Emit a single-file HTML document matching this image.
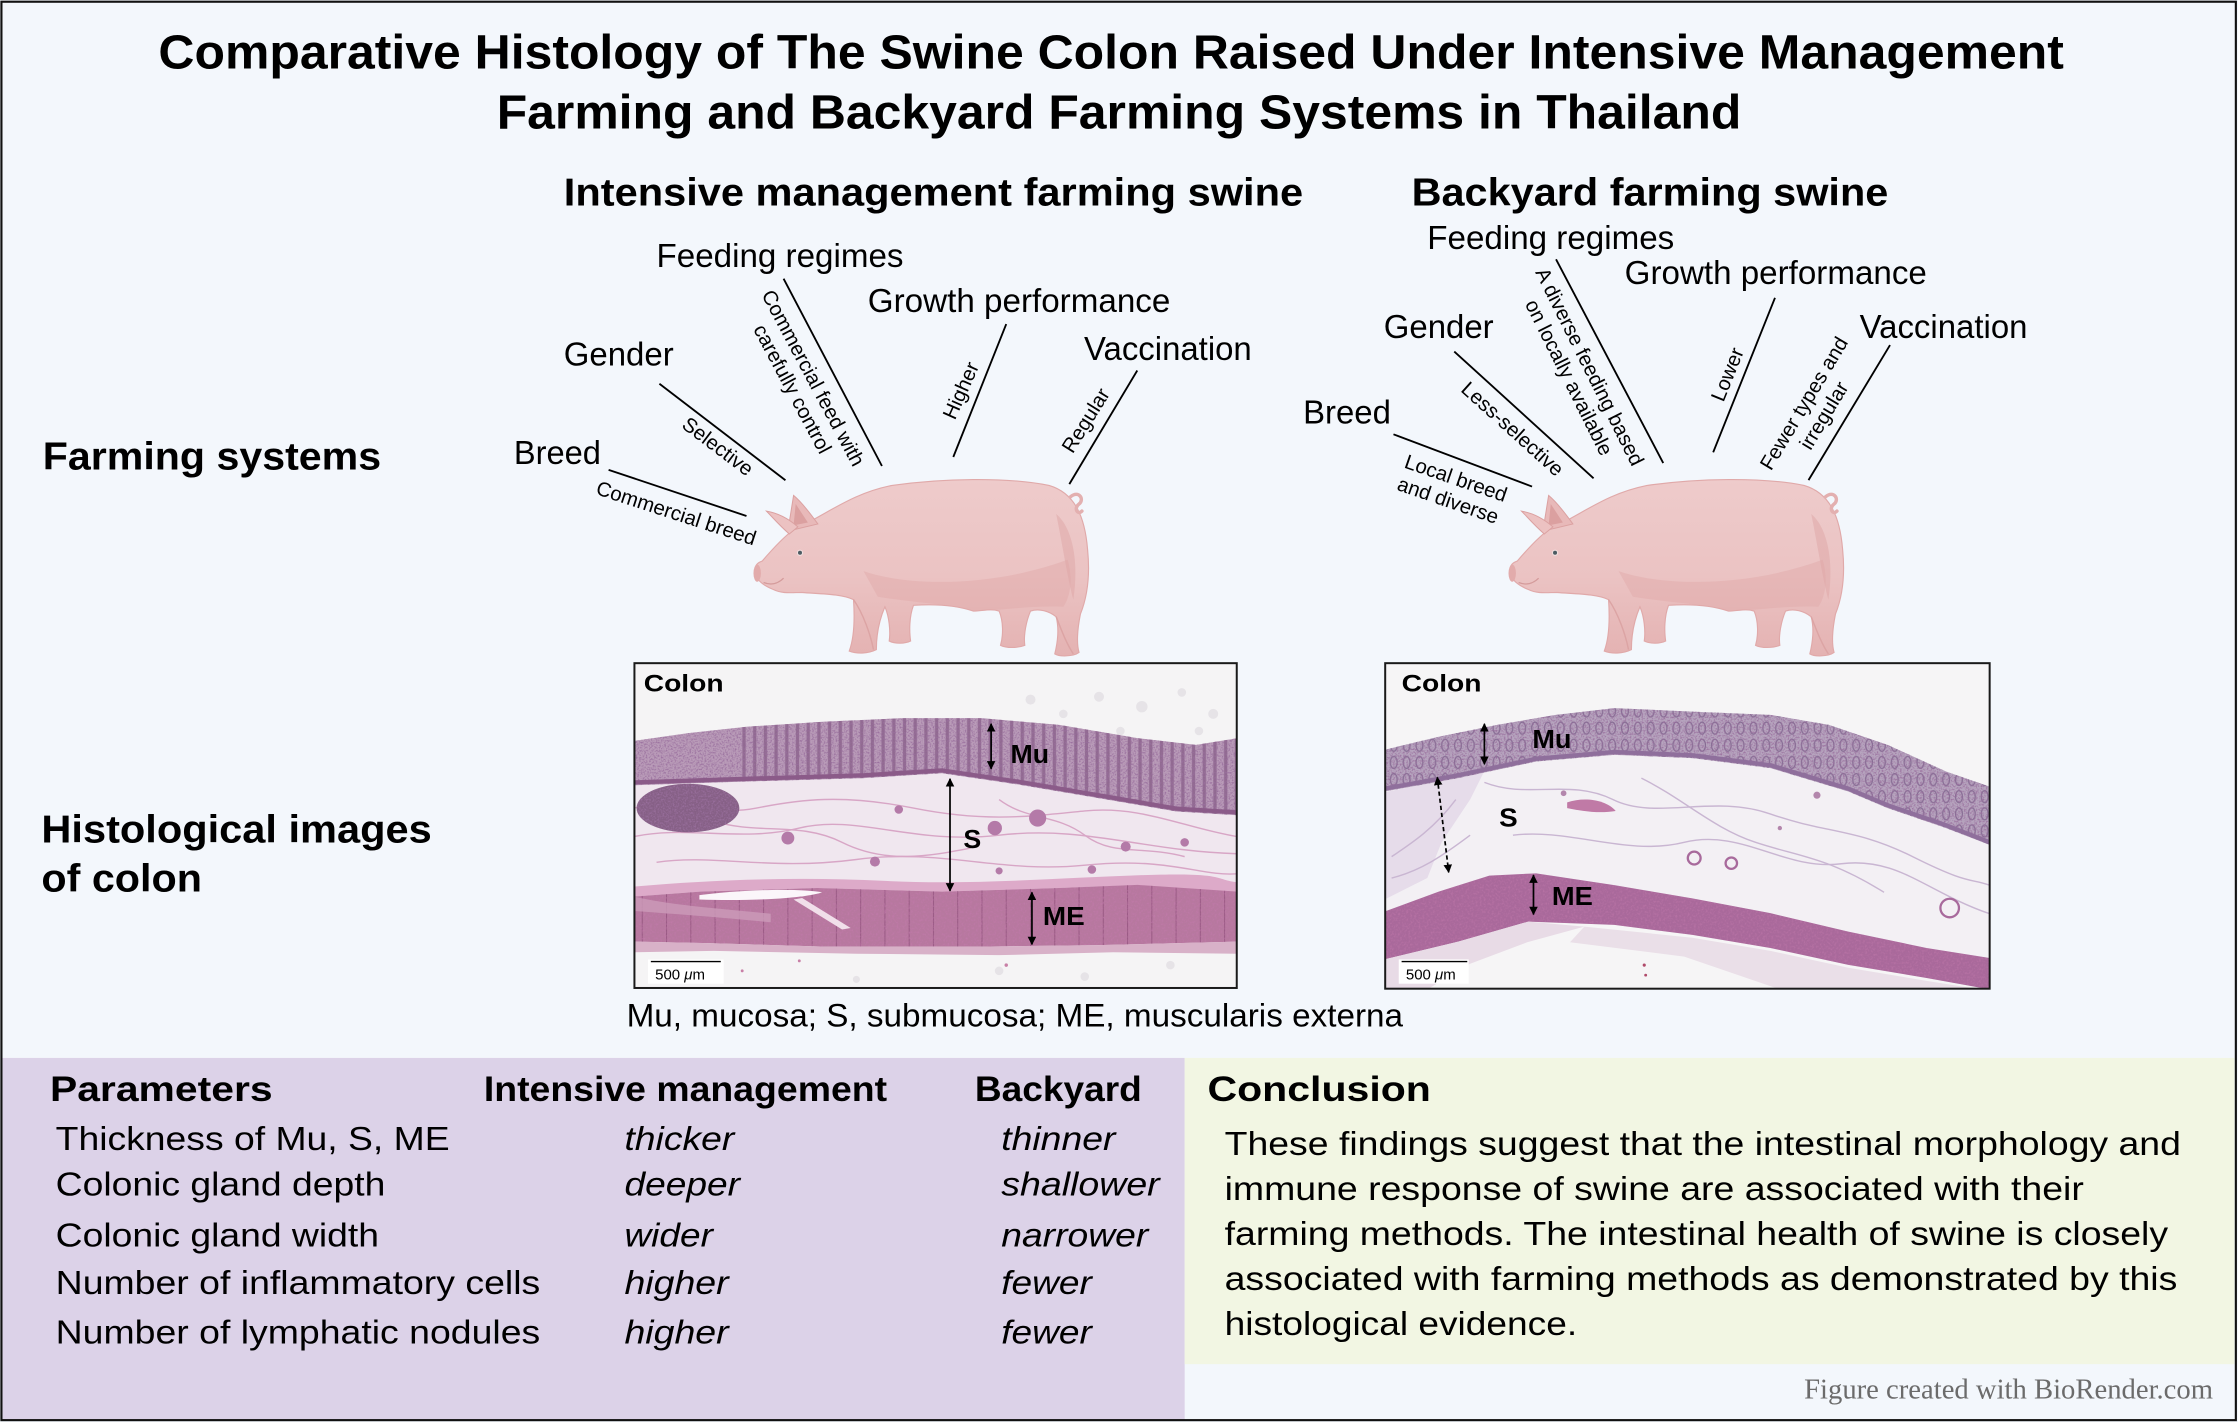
<!DOCTYPE html>
<html><head><meta charset="utf-8"><style>
html,body{margin:0;padding:0;background:#f3f7fc;width:2238px;height:1422px;overflow:hidden}
svg{display:block}
</style></head><body>
<svg xmlns="http://www.w3.org/2000/svg" xmlns:xlink="http://www.w3.org/1999/xlink" width="2238" height="1422" viewBox="0 0 1568 996" preserveAspectRatio="none" font-family="'Liberation Sans', Arial, sans-serif">
<defs>
  <marker id="ah" viewBox="0 0 10 10" refX="9" refY="5" markerWidth="6" markerHeight="6" markerUnits="userSpaceOnUse" orient="auto-start-reverse">
    <path d="M0,0 L10,5 L0,10 z" fill="#000"/>
  </marker>
  <linearGradient id="pigG" x1="0" y1="0" x2="0" y2="1">
    <stop offset="0" stop-color="#eecbcb"/>
    <stop offset="0.55" stop-color="#ebc3c3"/>
    <stop offset="1" stop-color="#e4b2b2"/>
  </linearGradient>
  <clipPath id="boxL"><rect x="444.5" y="464.5" width="422" height="227.5"/></clipPath>
  <clipPath id="boxR"><rect x="970.5" y="464.5" width="423.5" height="228"/></clipPath>
  <clipPath id="nodL"><ellipse cx="482" cy="566" rx="36" ry="17"/></clipPath>
  <clipPath id="mucL"><path d="M444,519 L482,513.5 L523,509 L578,505.4 L632.8,503 L687.5,503 L742.2,507.7 L797,517 L838,521.7 L867,517 L867,571 L824.3,568.4 L769.6,559 L714.8,549.7 L660,541.6 L605.5,545 L523,547.4 L444,550 Z"/></clipPath>
  <clipPath id="meL"><path d="M444,628 L490.6,624.5 L572.6,622 L660,624.5 L742,622 L797,619.8 L867,624.5 L867,659.5 L769.6,662 L687.5,663 L578,663 L496,660.6 L444,659.5 Z"/></clipPath>
  <clipPath id="mucR"><path d="M970,525.2 L1008,516 L1049,507.7 L1090,500.7 L1131,496 L1185.7,498.4 L1240.4,500.7 L1281.4,507.7 L1322.5,521.7 L1363.5,540.4 L1394,551 L1394,591.8 L1363.5,580 L1322.5,566 L1295,554.4 L1240.4,538 L1185.7,531 L1131,528.7 L1076.3,533.4 L1021.7,545 L970,554.4 Z"/></clipPath>
  <clipPath id="meR"><path d="M970,638.5 L1008,624.5 L1043.5,613.3 L1076.3,611.7 L1131,620 L1185.7,629.2 L1240.4,639.6 L1295,652.5 L1349.8,664 L1394,671 L1394,693 L1349.8,685 L1295,675.8 L1240.4,664 L1185.7,654.8 L1131,647.8 L1070.8,645.5 L1021.7,659.5 L970,672 Z"/></clipPath>
  <pattern id="glL" patternUnits="userSpaceOnUse" width="7.5" height="80">
    <rect x="2.6" y="-2" width="2.3" height="84" rx="1.1" fill="#6a3a6a" opacity=".5"/>
  </pattern>
  <pattern id="glR" patternUnits="userSpaceOnUse" width="9" height="12">
    <ellipse cx="4.5" cy="6" rx="2.4" ry="4.2" fill="none" stroke="#5f4070" stroke-width="0.9" opacity=".55"/>
  </pattern>
  <pattern id="bunL" patternUnits="userSpaceOnUse" width="17" height="60">
    <line x1="8" y1="0" x2="8" y2="60" stroke="#7f3f6c" stroke-width=".7" opacity=".55"/>
  </pattern>
  <filter id="nz" x="0" y="0" width="100%" height="100%">
    <feTurbulence type="fractalNoise" baseFrequency="0.85" numOctaves="2" seed="5" result="t"/>
    <feColorMatrix in="t" type="matrix" values="0 0 0 0 0.32  0 0 0 0 0.16  0 0 0 0 0.34  2.6 0 0 0 -1.1"/>
  </filter>
  <filter id="nzp" x="0" y="0" width="100%" height="100%">
    <feTurbulence type="fractalNoise" baseFrequency="0.7" numOctaves="2" seed="9" result="t"/>
    <feColorMatrix in="t" type="matrix" values="0 0 0 0 0.55  0 0 0 0 0.2  0 0 0 0 0.42  2.2 0 0 0 -0.95"/>
  </filter>
  <g id="pig">
    <path d="M529,399 C529,396 531,394 534,393 C540,386 548,377 556,371 L566,366 C585,356 600,345 625,340 C660,335 705,334 735,340 C752,345 760,360 762,385 C764,405 761,420 757,430 C755,440 754,450 756,457 C752,460 742,460 739,458 C741,450 742,440 740,432 C735,428 728,426 722,428 C719,435 717,445 718,452 C713,454 705,454 701,452 C703,445 703,435 700,428 C694,426 688,428 682,428 C670,424 655,423 640,424 C637,432 637,442 638,449 C634,451 627,451 623,449 C624,442 623,432 620,425 C617,432 614,442 614,455 C608,458 600,458 595,456 C598,448 599,435 598,420 C590,416 575,416 562,415 C555,415 548,416 542,413 C537,411 532,408 530,404 Z" fill="url(#pigG)" stroke="#e0a9a9" stroke-width="0.8"/>
    <path d="M605,400 C640,412 700,410 748,392 C752,405 750,418 745,425 C720,424 700,428 682,428 C665,423 640,422 615,418 Z" fill="#dfa9a9" opacity=".45"/>
    <path d="M740,360 C752,370 756,395 752,420 C748,405 745,385 740,360 Z" fill="#dea6a6" opacity=".5"/>
    <path d="M598,420 C605,430 610,445 612,455" stroke="#dca4a4" stroke-width="1" fill="none"/>
    <path d="M740,432 C745,445 748,452 752,458" stroke="#dca4a4" stroke-width="1" fill="none"/>
    <path d="M552,372 L556,347 C562,352 568,360 573,367 Z" fill="#e8b9b9" stroke="#dba1a1" stroke-width=".7"/>
    <path d="M556,368 L557.5,353 L566,366 Z" fill="#dba0a0"/>
    <path d="M553,374 C546,368 541,362 537,358 C543,359 551,362 559,369 Z" fill="#ecc2c2" stroke="#dba1a1" stroke-width=".7"/>
    <path d="M750,348 C756,343 760,350 756,353 C752,356 755,361 758,358" stroke="#e3b0b0" stroke-width="2.4" fill="none" stroke-linecap="round"/>
    <ellipse cx="530.5" cy="401.5" rx="2.6" ry="6" fill="#e2abab"/>
    <circle cx="560.5" cy="387.2" r="2.2" fill="#f1dede"/>
    <circle cx="560.5" cy="387.2" r="1.4" fill="#4b5b62"/>
    <path d="M535,408 C540,410 545,409 549,405" stroke="#d49b9b" stroke-width=".9" fill="none"/>
  </g>
</defs>

<rect width="1568" height="996" fill="#f3f7fc"/>
<rect x="1" y="741" width="829" height="253.5" fill="#dcd2e8"/>
<rect x="830" y="741" width="735.5" height="214.5" fill="#f2f6e3"/>
<rect x="1" y="1.2" width="1565.5" height="993.5" fill="none" stroke="#111" stroke-width="1.5"/>

<!-- Titles -->
<g font-weight="bold" fill="#000">
  <text x="111" y="48" font-size="34" textLength="1335" lengthAdjust="spacingAndGlyphs">Comparative Histology of The Swine Colon Raised Under Intensive Management</text>
  <text x="348" y="90" font-size="34" textLength="872" lengthAdjust="spacingAndGlyphs">Farming and Backyard Farming Systems in Thailand</text>
  <text x="395" y="144" font-size="27" textLength="518" lengthAdjust="spacingAndGlyphs">Intensive management farming swine</text>
  <text x="989" y="144" font-size="27" textLength="334" lengthAdjust="spacingAndGlyphs">Backyard farming swine</text>
  <text x="30" y="329" font-size="27" textLength="237" lengthAdjust="spacingAndGlyphs">Farming systems</text>
  <text x="29" y="590" font-size="27" textLength="273.5" lengthAdjust="spacingAndGlyphs">Histological images</text>
  <text x="29" y="624.5" font-size="27" textLength="112.5" lengthAdjust="spacingAndGlyphs">of colon</text>
</g>

<!-- Pigs -->
<use xlink:href="#pig" href="#pig"/>
<use xlink:href="#pig" href="#pig" transform="translate(529,0)"/>

<!-- Pig labels -->
<g font-size="23.2" fill="#000">
  <text x="360" y="325" textLength="61" lengthAdjust="spacingAndGlyphs">Breed</text>
  <text x="395" y="256" textLength="77" lengthAdjust="spacingAndGlyphs">Gender</text>
  <text x="460" y="187" textLength="173" lengthAdjust="spacingAndGlyphs">Feeding regimes</text>
  <text x="608" y="218.4" textLength="212" lengthAdjust="spacingAndGlyphs">Growth performance</text>
  <text x="759.5" y="252.3" textLength="117.5" lengthAdjust="spacingAndGlyphs">Vaccination</text>
  <text x="913" y="296.5" textLength="61.5" lengthAdjust="spacingAndGlyphs">Breed</text>
  <text x="969.5" y="236.9" textLength="77" lengthAdjust="spacingAndGlyphs">Gender</text>
  <text x="1000" y="174.5" textLength="173" lengthAdjust="spacingAndGlyphs">Feeding regimes</text>
  <text x="1138.3" y="199.1" textLength="211.7" lengthAdjust="spacingAndGlyphs">Growth performance</text>
  <text x="1302.9" y="236.8" textLength="117.6" lengthAdjust="spacingAndGlyphs">Vaccination</text>
</g>

<!-- Connector lines -->
<g stroke="#000" stroke-width="1.3" fill="none">
  <line x1="426.4" y1="329.1" x2="523" y2="361.4"/>
  <line x1="462" y1="268.8" x2="550.3" y2="336.4"/>
  <line x1="549" y1="195.2" x2="617.9" y2="326.4"/>
  <line x1="705" y1="227" x2="667.9" y2="320.1"/>
  <line x1="796.8" y1="259.5" x2="749.2" y2="339.1"/>
  <line x1="976.3" y1="304.2" x2="1073.4" y2="340.8"/>
  <line x1="1018.9" y1="246.2" x2="1116.5" y2="335"/>
  <line x1="1090.2" y1="181.6" x2="1165.3" y2="324.3"/>
  <line x1="1243.6" y1="208.6" x2="1200.3" y2="316.8"/>
  <line x1="1324.2" y1="241.7" x2="1267.1" y2="336.3"/>
</g>

<!-- Rotated small labels -->
<g font-size="14.3" text-anchor="middle" fill="#000">
  <text transform="translate(472.3,364) rotate(18)">Commercial breed</text>
  <text transform="translate(500,316.5) rotate(37)">Selective</text>
  <text transform="translate(565.5,267) rotate(62)">Commercial feed with</text>
  <text transform="translate(551,274.7) rotate(62)">carefully control</text>
  <text transform="translate(677.6,275.5) rotate(-66)">Higher</text>
  <text transform="translate(764.8,297) rotate(-58)">Regular</text>
  <text transform="translate(1018.5,339.5) rotate(19)">Local breed</text>
  <text transform="translate(1013,355) rotate(19)">and diverse</text>
  <text transform="translate(1056.5,304) rotate(42)">Less-selective</text>
  <text transform="translate(1109.5,259) rotate(63.5)">A diverse feeding based</text>
  <text transform="translate(1095,266.5) rotate(63.5)">on locally available</text>
  <text transform="translate(1214.7,264) rotate(-68)">Lower</text>
  <text transform="translate(1268,285) rotate(-59)">Fewer types and</text>
  <text transform="translate(1282,293.5) rotate(-59)">irregular</text>
</g>

<!-- LEFT HISTOLOGY -->
<g clip-path="url(#boxL)">
  <rect x="444" y="464" width="423" height="229" fill="#f5f4f5"/>
  <g fill="#e6e3e7">
    <circle cx="722" cy="490" r="3.5"/><circle cx="745" cy="500" r="3"/><circle cx="770" cy="488" r="3.5"/>
    <circle cx="800" cy="495" r="4"/><circle cx="828" cy="485" r="3"/><circle cx="850" cy="500" r="3.5"/>
    <circle cx="785" cy="512" r="3"/><circle cx="840" cy="512" r="3"/><circle cx="700" cy="680" r="3"/>
    <circle cx="760" cy="684" r="3"/><circle cx="820" cy="676" r="3"/><circle cx="600" cy="686" r="2.5"/>
  </g>
  <!-- submucosa -->
  <path d="M444,548 L523,545 L605.5,543 L660,540 L714.8,548 L769.6,557 L824.3,566 L867,569 L867,626 L797,621 L742,623 L660,626 L572.6,623 L490.6,626 L444,630 Z" fill="#f0e7ef"/>
  <g fill="none" stroke="#d8a6c6" stroke-width="1">
    <path d="M444,566 C470,560 500,572 530,566 S590,556 640,566 S720,572 760,568 S830,580 867,586"/>
    <path d="M444,586 C480,578 520,590 560,580 S640,592 700,585 S800,596 867,598"/>
    <path d="M460,604 C500,598 540,610 600,602 S700,612 760,606 S840,614 867,612"/>
    <path d="M500,575 C530,585 560,575 590,590 S650,600 680,594"/>
    <path d="M700,560 C720,575 740,570 760,585 S800,592 830,600"/>
  </g>
  <path d="M444,621 C500,616 560,614 620,617 S740,615 800,613 S850,616 867,618 L867,625 L797,620 L742,622 L660,624.5 L572.6,622 L490.6,624.5 L444,628 Z" fill="#d89bbf" opacity=".8"/>
  <g fill="#b47aa8">
    <circle cx="552" cy="587" r="4.5"/><circle cx="697" cy="580" r="5"/><circle cx="727" cy="573" r="6"/>
    <circle cx="613" cy="603.5" r="3.5"/><circle cx="788.7" cy="593" r="3.5"/><circle cx="765" cy="609" r="3"/>
    <circle cx="629.7" cy="567" r="3"/><circle cx="700" cy="610" r="2.5"/><circle cx="830" cy="590" r="3"/>
  </g>
  <!-- mucosa -->
  <path d="M444,519 L482,513.5 L523,509 L578,505.4 L632.8,503 L687.5,503 L742.2,507.7 L797,517 L838,521.7 L867,517 L867,571 L824.3,568.4 L769.6,559 L714.8,549.7 L660,541.6 L605.5,545 L523,547.4 L444,550 Z" fill="#b99bb8"/>
  <rect x="520" y="495" width="347" height="80" fill="url(#glL)" clip-path="url(#mucL)"/>
  <rect x="444" y="464" width="423" height="229" filter="url(#nz)" clip-path="url(#mucL)"/>
  <path d="M444,548 L523,545.5 L605.5,543 L660,539.6 L714.8,547.7 L769.6,557 L824.3,566.4 L867,569" fill="none" stroke="#8b5b89" stroke-width="3"/>
  <ellipse cx="482" cy="566" rx="36" ry="17" fill="#866086"/>
  <rect x="444" y="545" width="80" height="42" filter="url(#nz)" clip-path="url(#nodL)"/>
  <!-- muscularis externa -->
  <path d="M444,628 L490.6,624.5 L572.6,622 L660,624.5 L742,622 L797,619.8 L867,624.5 L867,659.5 L769.6,662 L687.5,663 L578,663 L496,660.6 L444,659.5 Z" fill="#b7789f"/>
  <rect x="444" y="610" width="423" height="60" fill="url(#bunL)" clip-path="url(#meL)"/>
  <rect x="444" y="464" width="423" height="229" filter="url(#nzp)" clip-path="url(#meL)" opacity=".7"/>
  <path d="M444,628 C470,634 500,636 540,640 L540,646 C500,642 470,640 444,638 Z" fill="#cc9bb9" opacity=".8"/>
  <path d="M490,627 C520,623 560,622 576,625 C560,630 520,631 490,630 Z" fill="#fbf6fa"/>
  <path d="M556,630 L562,629 L596,650 L590,651 Z" fill="#f1dfea"/>
  <path d="M444,659.5 L496,660.6 L578,663 L687.5,663 L769.6,662 L867,659.5 L867,668 L780,667 L700,669 L600,668 L500,666 L444,667 Z" fill="#d8b1c8"/>
  <g fill="#c87fa6"><circle cx="705" cy="676" r="1.2"/><circle cx="520" cy="680" r="1"/><circle cx="560" cy="673" r="1"/></g>
</g>
<rect x="444.5" y="464.5" width="422" height="227.5" fill="none" stroke="#1a1a1a" stroke-width="1.4"/>
<text x="451" y="484.4" font-size="17" font-weight="bold" textLength="56" lengthAdjust="spacingAndGlyphs">Colon</text>
<!-- arrows left -->
<g stroke="#000" stroke-width="1.2" fill="none">
  <line x1="694.4" y1="507" x2="694.4" y2="538.5" marker-start="url(#ah)" marker-end="url(#ah)"/>
  <line x1="665.6" y1="545.5" x2="665.6" y2="624" marker-start="url(#ah)" marker-end="url(#ah)"/>
  <line x1="723" y1="625" x2="723" y2="661.5" marker-start="url(#ah)" marker-end="url(#ah)"/>
</g>
<g font-weight="bold" font-size="18" fill="#000">
  <text x="708" y="534.5" textLength="27" lengthAdjust="spacingAndGlyphs">Mu</text>
  <text x="675" y="594" textLength="12.5" lengthAdjust="spacingAndGlyphs">S</text>
  <text x="730.7" y="647.8" textLength="29.3" lengthAdjust="spacingAndGlyphs">ME</text>
</g>
<rect x="454" y="672" width="53" height="17" fill="#fff"/>
<line x1="456" y1="673.5" x2="505" y2="673.5" stroke="#000" stroke-width="1"/>
<text x="459" y="686" font-size="10.5" fill="#000">500 <tspan font-style="italic">μ</tspan>m</text>

<!-- RIGHT HISTOLOGY -->
<g clip-path="url(#boxR)">
  <rect x="970" y="464" width="425" height="230" fill="#f6f5f6"/>
  <!-- submucosa -->
  <path d="M970,552 L1021.7,543 L1076.3,531.4 L1131,526.7 L1185.7,529 L1240.4,536 L1295,552.4 L1322.5,564 L1363.5,578 L1394,590 L1394,673 L1349.8,666 L1295,654.5 L1240.4,641.6 L1185.7,631.2 L1131,622 L1076.3,613.7 L1043.5,615.3 L1008,626.5 L970,640.5 Z" fill="#f3f0f4"/>
  <path d="M970,555 L1040,540 L1030,560 L1010,590 L1000,615 L970,630 Z" fill="#e3d8e7" opacity=".85"/>
  <g fill="none" stroke="#c9b6d2" stroke-width="1">
    <path d="M1040,548 C1070,560 1100,545 1130,560 S1200,556 1240,570 S1300,580 1340,600 S1380,615 1394,620"/>
    <path d="M1060,585 C1100,580 1140,600 1180,590 S1250,610 1290,605 S1350,625 1394,640"/>
    <path d="M1150,545 C1180,560 1200,580 1230,590 S1280,600 1320,625"/>
    <path d="M975,600 C990,590 1005,580 1020,560"/>
    <path d="M975,615 C995,610 1010,600 1030,585"/>
  </g>
  <path d="M1098,562 C1110,558 1125,560 1132,568 C1120,570 1108,568 1098,566 Z" fill="#c07aa6"/>
  <g fill="none" stroke="#a86a9c" stroke-width="1.6">
    <circle cx="1187" cy="601" r="4.5"/><circle cx="1213" cy="604.6" r="4"/><circle cx="1366" cy="636" r="6.5"/>
  </g>
  <g fill="#b386ac"><circle cx="1273" cy="557" r="2.5"/><circle cx="1095.5" cy="555.6" r="2"/><circle cx="1247" cy="580" r="1.5"/></g>
  <!-- mucosa -->
  <path d="M970,525.2 L1008,516 L1049,507.7 L1090,500.7 L1131,496 L1185.7,498.4 L1240.4,500.7 L1281.4,507.7 L1322.5,521.7 L1363.5,540.4 L1394,551 L1394,591.8 L1363.5,580 L1322.5,566 L1295,554.4 L1240.4,538 L1185.7,531 L1131,528.7 L1076.3,533.4 L1021.7,545 L970,554.4 Z" fill="#b6a4be"/>
  <rect x="970" y="490" width="425" height="110" fill="url(#glR)" clip-path="url(#mucR)"/>
  <rect x="970" y="464" width="425" height="230" filter="url(#nz)" clip-path="url(#mucR)"/>
  <path d="M970,552.4 L1021.7,543 L1076.3,531.4 L1131,526.7 L1185.7,529 L1240.4,536 L1295,552.4 L1322.5,564 L1363.5,578 L1394,590" fill="none" stroke="#8f6f9c" stroke-width="3"/>
  <!-- muscularis externa -->
  <path d="M970,638.5 L1008,624.5 L1043.5,613.3 L1076.3,611.7 L1131,620 L1185.7,629.2 L1240.4,639.6 L1295,652.5 L1349.8,664 L1394,671 L1394,693 L1349.8,685 L1295,675.8 L1240.4,664 L1185.7,654.8 L1131,647.8 L1070.8,645.5 L1021.7,659.5 L970,672 Z" fill="#a9699b"/>
  <rect x="970" y="464" width="425" height="230" filter="url(#nzp)" clip-path="url(#meR)" opacity=".6"/>
  <path d="M970,672 L1021.7,659.5 L1070.8,645.5 L1110,649 L1070,660 L1030,675 L1000,693 L970,693 Z" fill="#e8dbe6"/>
  <path d="M1110,649 L1185.7,656.8 L1240.4,666 L1295,677.8 L1349.8,687 L1394,694 L1250,694 L1180,670 L1100,660 Z" fill="#eadfe8"/>
  <g fill="#b04a6a"><circle cx="1152" cy="676" r="1.1"/><circle cx="1153" cy="683" r="1"/></g>
</g>
<rect x="970.5" y="464.5" width="423.5" height="228" fill="none" stroke="#1a1a1a" stroke-width="1.4"/>
<text x="982" y="484.4" font-size="17" font-weight="bold" textLength="56" lengthAdjust="spacingAndGlyphs">Colon</text>
<g stroke="#000" stroke-width="1.2" fill="none">
  <line x1="1040" y1="507" x2="1040" y2="535.3" marker-start="url(#ah)" marker-end="url(#ah)"/>
  <line x1="1007" y1="544.5" x2="1015" y2="611" marker-start="url(#ah)" marker-end="url(#ah)" stroke-dasharray="3 2"/>
  <line x1="1074.4" y1="613" x2="1074.4" y2="640.5" marker-start="url(#ah)" marker-end="url(#ah)"/>
</g>
<g font-weight="bold" font-size="18" fill="#000">
  <text x="1073.6" y="524" textLength="27.4" lengthAdjust="spacingAndGlyphs">Mu</text>
  <text x="1050.3" y="579" textLength="13" lengthAdjust="spacingAndGlyphs">S</text>
  <text x="1087.3" y="633.8" textLength="28.7" lengthAdjust="spacingAndGlyphs">ME</text>
</g>
<rect x="980" y="672" width="49" height="17" fill="#fff"/>
<line x1="982" y1="673.5" x2="1028" y2="673.5" stroke="#000" stroke-width="1"/>
<text x="985" y="686" font-size="10.5" fill="#000">500 <tspan font-style="italic">μ</tspan>m</text>

<!-- caption -->
<text x="439" y="719" font-size="23" textLength="544" lengthAdjust="spacingAndGlyphs">Mu, mucosa; S, submucosa; ME, muscularis externa</text>

<!-- Table -->
<g font-weight="bold" font-size="24.5" fill="#000">
  <text x="35" y="771" textLength="156" lengthAdjust="spacingAndGlyphs">Parameters</text>
  <text x="339" y="771" textLength="282.5" lengthAdjust="spacingAndGlyphs">Intensive management</text>
  <text x="683" y="771" textLength="117" lengthAdjust="spacingAndGlyphs">Backyard</text>
  <text x="846" y="771" textLength="156.5" lengthAdjust="spacingAndGlyphs">Conclusion</text>
</g>
<g font-size="23.5" fill="#000">
  <text x="39" y="805.5" textLength="276" lengthAdjust="spacingAndGlyphs">Thickness of Mu, S, ME</text>
  <text x="39" y="837.5" textLength="231" lengthAdjust="spacingAndGlyphs">Colonic gland depth</text>
  <text x="39" y="873" textLength="226.5" lengthAdjust="spacingAndGlyphs">Colonic gland width</text>
  <text x="39" y="906.5" textLength="339.5" lengthAdjust="spacingAndGlyphs">Number of inflammatory cells</text>
  <text x="39" y="941" textLength="339.5" lengthAdjust="spacingAndGlyphs">Number of lymphatic nodules</text>
</g>
<g font-size="23.5" font-style="italic" fill="#000">
  <text x="437.5" y="805.5" textLength="77" lengthAdjust="spacingAndGlyphs">thicker</text>
  <text x="437.5" y="837.5" textLength="81" lengthAdjust="spacingAndGlyphs">deeper</text>
  <text x="437.5" y="873" textLength="62" lengthAdjust="spacingAndGlyphs">wider</text>
  <text x="437.5" y="906.5" textLength="73" lengthAdjust="spacingAndGlyphs">higher</text>
  <text x="437.5" y="941" textLength="73" lengthAdjust="spacingAndGlyphs">higher</text>
  <text x="701.5" y="805.5" textLength="80" lengthAdjust="spacingAndGlyphs">thinner</text>
  <text x="701.5" y="837.5" textLength="111" lengthAdjust="spacingAndGlyphs">shallower</text>
  <text x="701.5" y="873" textLength="103" lengthAdjust="spacingAndGlyphs">narrower</text>
  <text x="701.5" y="906.5" textLength="63.5" lengthAdjust="spacingAndGlyphs">fewer</text>
  <text x="701.5" y="941" textLength="63.5" lengthAdjust="spacingAndGlyphs">fewer</text>
</g>

<!-- Conclusion paragraph -->
<g font-size="23.6" fill="#000">
  <text x="858" y="809" textLength="670" lengthAdjust="spacingAndGlyphs">These findings suggest that the intestinal morphology and</text>
  <text x="858" y="840.5" textLength="602" lengthAdjust="spacingAndGlyphs">immune response of swine are associated with their</text>
  <text x="858" y="872" textLength="661" lengthAdjust="spacingAndGlyphs">farming methods. The intestinal health of swine is closely</text>
  <text x="858" y="903.5" textLength="667.5" lengthAdjust="spacingAndGlyphs">associated with farming methods as demonstrated by this</text>
  <text x="858" y="935" textLength="247" lengthAdjust="spacingAndGlyphs">histological evidence.</text>
</g>

<text x="1264" y="979.4" font-family="'Liberation Serif', 'Times New Roman', serif" font-size="20" fill="#6b6b6b" textLength="286.5" lengthAdjust="spacingAndGlyphs">Figure created with BioRender.com</text>
</svg>
</body></html>
